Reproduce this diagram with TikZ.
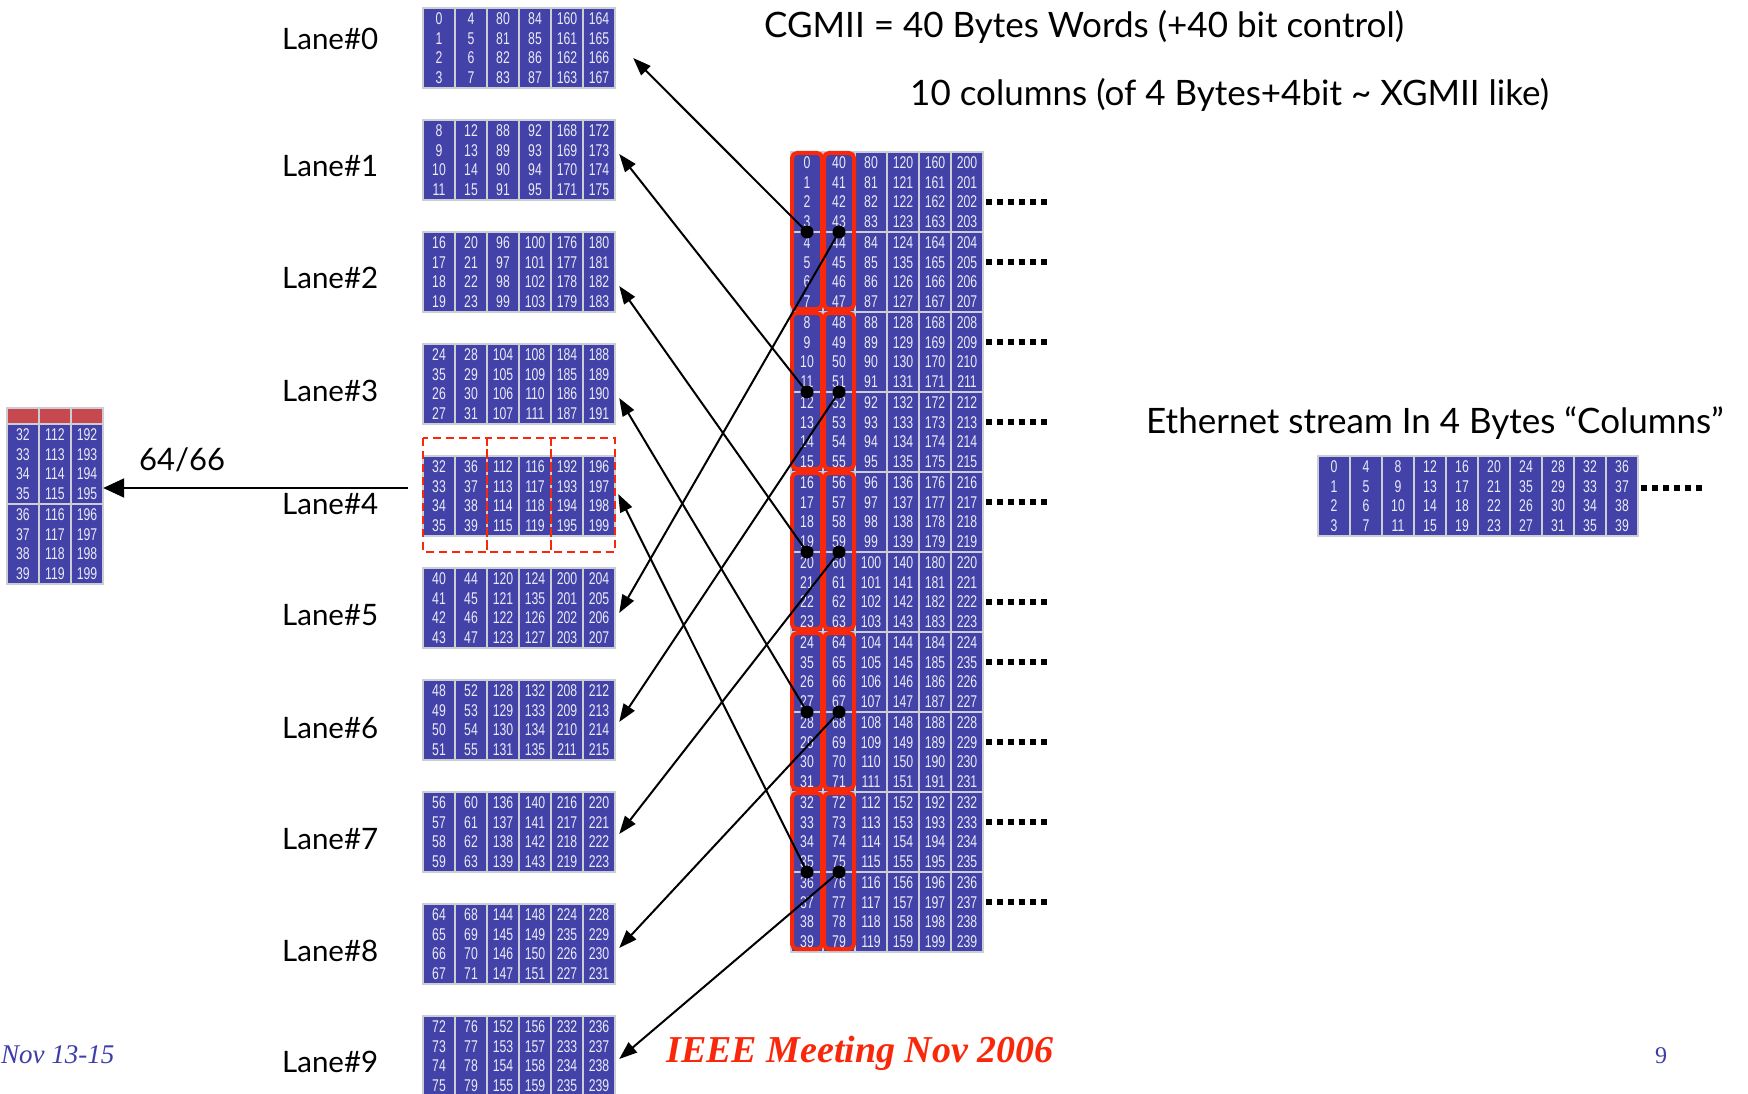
\documentclass[tikz,border=0pt]{standalone}
\usepackage{fontspec}
\setmainfont{Lato}
\newfontfamily\cellfont[FakeStretch=0.72]{Liberation Sans}
\newfontfamily\footfont{Liberation Serif}
\usetikzlibrary{arrows.meta, calc}

\definecolor{WordBlue}{RGB}{66,66,168}
\definecolor{WordEdge}{RGB}{205,205,212}
\definecolor{WordText}{RGB}{235,235,245}
\definecolor{LaneRed}{RGB}{250,40,10}
\definecolor{HeadRed}{RGB}{200,72,80}
\definecolor{FootBlue}{RGB}{60,60,170}

% the slide prints 35, 135, 235 where 25, 125, 225 belong
\newcommand{\byteval}[1]{\ifnum#1=25 35\else\ifnum#1=125 135\else\ifnum#1=225 235\else#1\fi\fi\fi}

% one column of 4 bytes: name, x centre, y top, first value
\newcommand{\bytecol}[4]{%
  \draw[wordcell] (#2-16,#3) rectangle (#2+16,#3+80);
  \foreach \row in {0,...,3}{
    \pgfmathtruncatemacro{\cellv}{#4+\row}
    \node[cellnum] (#1-\row) at (#2,#3+11+19.5*\row) {\byteval{\cellv}};
  }
}

\begin{document}
\begin{tikzpicture}[x=1pt, y=-1pt,
    wordcell/.style={draw=WordEdge, fill=WordBlue, line width=2pt},
    headcell/.style={draw=WordEdge, fill=HeadRed, line width=2pt},
    cellnum/.style={font=\cellfont\fontsize{17}{17}\selectfont, text=WordText, inner sep=0pt},
    laneblk/.style={inner sep=0pt, minimum width=192pt, minimum height=80pt},
    laneframe/.style={draw=LaneRed, line width=4pt, rounded corners=5pt},
    dashbox/.style={draw=LaneRed, line width=2pt, dash pattern=on 8pt off 5pt},
    dotline/.style={line width=6pt, dash pattern=on 6pt off 5pt},
    tapdot/.style={circle, fill=black, minimum size=13pt, inner sep=0pt},
    arr/.style={-{Triangle[length=18pt,width=13pt]}, line width=2pt},
    bigarr/.style={-{Triangle[length=21pt,width=19pt]}, line width=2pt},
    lbl/.style={font=\fontsize{29.5}{29.5}\selectfont, inner sep=0pt, anchor=base west},
    ttl/.style={font=\fontsize{35}{35}\selectfont, inner sep=0pt, anchor=base west},
    foot/.style={font=\footfont, inner sep=0pt, anchor=base}
  ]
  \useasboundingbox (0,0) rectangle (1748,1094);

  % titles
  \node[ttl] (cgmiititle) at (764,38) {CGMII = 40 Bytes Words (+40 bit control)};
  \node[ttl] (coltitle) at (910,106) {10 columns (of 4 Bytes+4bit \textasciitilde\ XGMII like)};
  \node[ttl] (ethtitle) at (1146,433) {Ethernet stream In 4 Bytes “Columns”};

  % lanes
  \foreach \k in {0,...,9}{
    \node[laneblk] (lane\k) at (519,48+112*\k) {};
    \foreach \c/\base in {0/0, 1/4, 2/80, 3/84, 4/160, 5/164}{
      \pgfmathtruncatemacro{\first}{\base+8*\k}
      \bytecol{l\k-\c}{439+32*\c}{8+112*\k}{\first}
    }
  }
  \foreach \k/\ly in {0/50, 1/177, 2/288, 3/401, 4/514, 5/625, 6/738, 7/849, 8/961, 9/1072}
    \node[lbl] (name\k) at (282,\ly) {Lane\#\k};

  \foreach \i in {0,1,2}
    \draw[dashbox] ($(lane4.north west)+(64*\i,-18)$) rectangle ++(64,114);

  % CGMII words
  \node[laneblk, minimum height=800pt] (cgmii) at (887,552) {};
  \foreach \j in {0,...,9}
    \foreach \c in {0,...,5}{
      \pgfmathtruncatemacro{\first}{40*\c+4*\j}
      \bytecol{g\j-\c}{807+32*\c}{152+80*\j}{\first}
    }
  \foreach \c in {0,1}
    \foreach \j in {0,...,4}
      \draw[laneframe] (792+32*\c,153+160*\j) rectangle (822+32*\c,309+160*\j);
  \foreach \r in {2,5,9,13,17,22,25,29,33,37}
    \draw[dotline] ($(cgmii.north east)+(3,10+20*\r)$) -- ++(62,0);

  % taps into the lanes
  \foreach \k in {0,...,9}{
    \pgfmathtruncatemacro{\dc}{\k/5}
    \pgfmathtruncatemacro{\dj}{mod(\k,5)}
    \node[tapdot] (dot\k) at (807+32*\dc,232+160*\dj) {};
  }
  \foreach \k/\dx/\dy in {0/18/10, 1/4/-6, 2/4/14, 3/4/14, 4/3/-2,
                         5/4/5, 6/4/2, 7/4/2, 8/4/4, 9/4/3}
    \draw[arr] (dot\k.center) -- ($(lane\k.east)+(\dx,\dy)$);

  % 64/66 output of lane 4
  \node[inner sep=0pt, minimum width=96pt, minimum height=176pt] (stack) at (55,496) {};
  \foreach \c/\topv in {0/32, 1/112, 2/192}{
    \draw[headcell] (7+32*\c,408) rectangle (39+32*\c,424);
    \bytecol{s\c-a}{23+32*\c}{424}{\topv}
    \pgfmathtruncatemacro{\second}{\topv+4}
    \bytecol{s\c-b}{23+32*\c}{504}{\second}
  }
  \coordinate (tap) at ($(lane4.west)+(-15,-8)$);
  \draw[bigarr] (tap) -- (tap -| stack.east);
  \node[lbl, font=\fontsize{31}{31}\selectfont] (rate) at (139,470) {64/66};

  % ethernet stream
  \node[laneblk, minimum width=320pt] (ether) at (1478,496) {};
  \foreach \c in {0,...,9}{
    \pgfmathtruncatemacro{\first}{4*\c}
    \bytecol{e\c}{1334+32*\c}{456}{\first}
  }
  \draw[dotline] ($(ether.east)+(3,-8)$) -- ++(62,0);

  % footer
  \node[foot, anchor=base west, text=FootBlue, font=\footfont\itshape\fontsize{27}{27}\selectfont]
    (date) at (1,1063) {Nov 13-15};
  \node[foot, text=LaneRed, font=\footfont\bfseries\itshape\fontsize{38}{38}\selectfont]
    (meeting) at (860,1062) {IEEE Meeting Nov 2006};
  \node[foot, text=FootBlue, font=\footfont\fontsize{24}{24}\selectfont]
    (page) at (1661,1063) {9};
\end{tikzpicture}
\end{document}
